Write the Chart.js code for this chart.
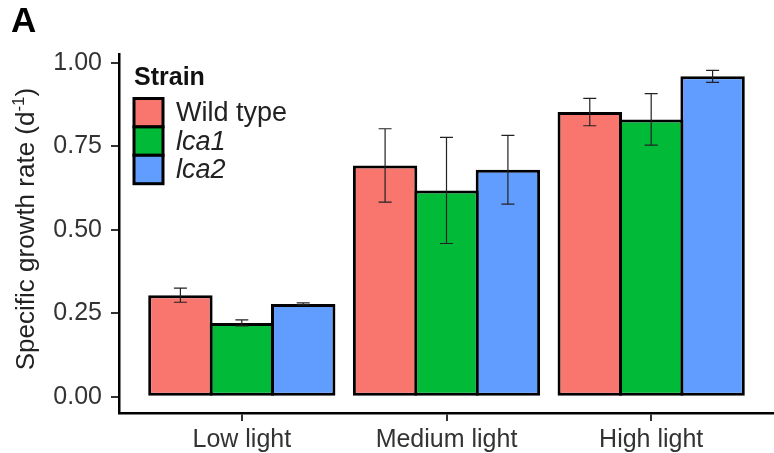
<!DOCTYPE html>
<html>
<head>
<meta charset="utf-8">
<script src="https://cdn.jsdelivr.net/npm/chart.js@4/dist/chart.umd.min.js"></script>
<style>
  html, body { margin: 0; padding: 0; background: #fff; }
  #wrap { position: relative; width: 774px; height: 453px; }
</style>
</head>
<body>
<div id="wrap"><canvas id="chart"></canvas></div>
<script>
// light conditions on the x axis
const categories = ["Low light", "Medium light", "High light"]

// mean specific growth rate (d-1) per strain
const wildType = [0.304, 0.693, 0.853]
const lca1 = [0.221, 0.618, 0.831]
const lca2 = [0.278, 0.680, 0.960]

// error bar half-widths
const wildTypeErr = [0.021, 0.110, 0.041]
const lca1Err = [0.009, 0.159, 0.077]
const lca2Err = [0.003, 0.103, 0.018]

const yTicks = [0, 0.25, 0.5, 0.75, 1]

const COLORS = {
  wild: "#F8766D",
  lca1: "#00BA38",
  lca2: "#619CFF",
  text: "#333333",
  ink: "#000000",
}

const FONT = '"Liberation Sans", Arial, Helvetica, sans-serif'
Chart.defaults.font.family = FONT

const ITALIC_LABELS = new Set(["lca1", "lca2"])

function toPoints(values) {
  return values.map((v, i) => ({ x: i + 1, y: v }))
}

const series = [
  { label: "Wild type", values: wildType, errors: wildTypeErr, color: COLORS.wild },
  { label: "lca1", values: lca1, errors: lca1Err, color: COLORS.lca1 },
  { label: "lca2", values: lca2, errors: lca2Err, color: COLORS.lca2 },
]

const errorBars = {
  id: "errorBars",
  afterDatasetsDraw(chart) {
    const { ctx } = chart
    const y = chart.scales.y
    ctx.save()
    ctx.strokeStyle = "#222"
    ctx.lineWidth = 1.2
    chart.data.datasets.forEach((ds, i) => {
      const meta = chart.getDatasetMeta(i)
      meta.data.forEach((bar, j) => {
        const v = ds.data[j].y
        const e = ds.errors[j]
        const top = y.getPixelForValue(v + e)
        const bot = y.getPixelForValue(v - e)
        const half = 6.5
        ctx.beginPath()
        ctx.moveTo(bar.x, top)
        ctx.lineTo(bar.x, bot)
        ctx.moveTo(bar.x - half, top)
        ctx.lineTo(bar.x + half, top)
        ctx.moveTo(bar.x - half, bot)
        ctx.lineTo(bar.x + half, bot)
        ctx.stroke()
      })
    })
    ctx.restore()
  },
}

const decorations = {
  id: "decorations",
  afterDraw(chart) {
    const { ctx } = chart
    ctx.save()

    // panel letter
    ctx.fillStyle = COLORS.ink
    ctx.font = `bold 35px ${FONT}`
    ctx.textAlign = "left"
    ctx.textBaseline = "alphabetic"
    ctx.fillText("A", 11, 32)

    // y axis title with superscript
    ctx.translate(27, 229)
    ctx.rotate(-Math.PI / 2)
    ctx.fillStyle = "#222"
    ctx.textBaseline = "middle"
    const main = "Specific growth rate (d"
    const sup = "-1"
    const close = ")"
    ctx.font = `26px ${FONT}`
    const wMain = ctx.measureText(main).width
    const wClose = ctx.measureText(close).width
    ctx.font = `17px ${FONT}`
    const wSup = ctx.measureText(sup).width
    let x = -(wMain + wSup + wClose) / 2
    ctx.font = `26px ${FONT}`
    ctx.fillText(main, x, 0)
    x += wMain
    ctx.font = `17px ${FONT}`
    ctx.fillText(sup, x, -8)
    x += wSup
    ctx.font = `26px ${FONT}`
    ctx.fillText(close, x, 0)
    ctx.restore()

    // legend
    ctx.save()
    ctx.fillStyle = "#111"
    ctx.font = `bold 25px ${FONT}`
    ctx.textBaseline = "alphabetic"
    ctx.fillText("Strain", 134, 85)
    const keyX = 134
    const keyW = 29
    const keyH = 28.4
    let keyY = 98.5
    chart.data.datasets.forEach((ds) => {
      ctx.fillStyle = ds.backgroundColor
      ctx.fillRect(keyX, keyY, keyW, keyH)
      ctx.strokeStyle = COLORS.ink
      ctx.lineWidth = 3
      ctx.strokeRect(keyX, keyY, keyW, keyH)
      ctx.fillStyle = "#222"
      ctx.font = `${ITALIC_LABELS.has(ds.label) ? "italic " : ""}27px ${FONT}`
      ctx.textBaseline = "middle"
      ctx.fillText(ds.label, 176, keyY + keyH / 2 + 1)
      keyY += keyH
    })
    ctx.restore()
  },
}

new Chart(document.getElementById("chart"), {
  type: "bar",
  data: {
    datasets: series.map((s) => ({
      label: s.label,
      data: toPoints(s.values),
      errors: s.errors,
      backgroundColor: s.color,
      borderColor: COLORS.ink,
      borderWidth: 3,
      borderSkipped: false,
      categoryPercentage: 0.9,
      barPercentage: 1.049,
    })),
  },
  options: {
    responsive: true,
    maintainAspectRatio: false,
    animation: false,
    layout: { padding: { top: 54, right: 0, left: 0, bottom: 0 } },
    plugins: {
      legend: { display: false },
      tooltip: { enabled: false },
    },
    scales: {
      x: {
        type: "linear",
        min: 0.4,
        max: 3.6,
        offset: false,
        afterBuildTicks: (scale) => {
          scale.ticks = categories.map((_, i) => ({ value: i + 1 }))
        },
        afterFit: (scale) => {
          scale.height = 40
        },
        ticks: {
          autoSkip: false,
          maxRotation: 0,
          color: COLORS.text,
          font: { size: 25 },
          padding: 4,
          callback: (value) => categories[Math.round(value) - 1],
        },
        grid: {
          offset: false,
          drawOnChartArea: false,
          drawTicks: true,
          tickLength: 8,
          color: "#333",
          lineWidth: 2,
        },
        border: { display: true, color: COLORS.ink, width: 2.5 },
      },
      y: {
        min: -0.049,
        max: 1.027,
        afterBuildTicks: (scale) => {
          scale.ticks = yTicks.map((v) => ({ value: v }))
        },
        afterFit: (scale) => {
          scale.width = 119
        },
        ticks: {
          color: COLORS.text,
          font: { size: 25 },
          padding: 9,
          callback: (value) => value.toFixed(2),
        },
        grid: {
          drawOnChartArea: false,
          drawTicks: true,
          tickLength: 8,
          color: "#333",
          lineWidth: 2,
        },
        border: { display: true, color: COLORS.ink, width: 2.5 },
      },
    },
  },
  plugins: [errorBars, decorations],
})
</script>
</body>
</html>
